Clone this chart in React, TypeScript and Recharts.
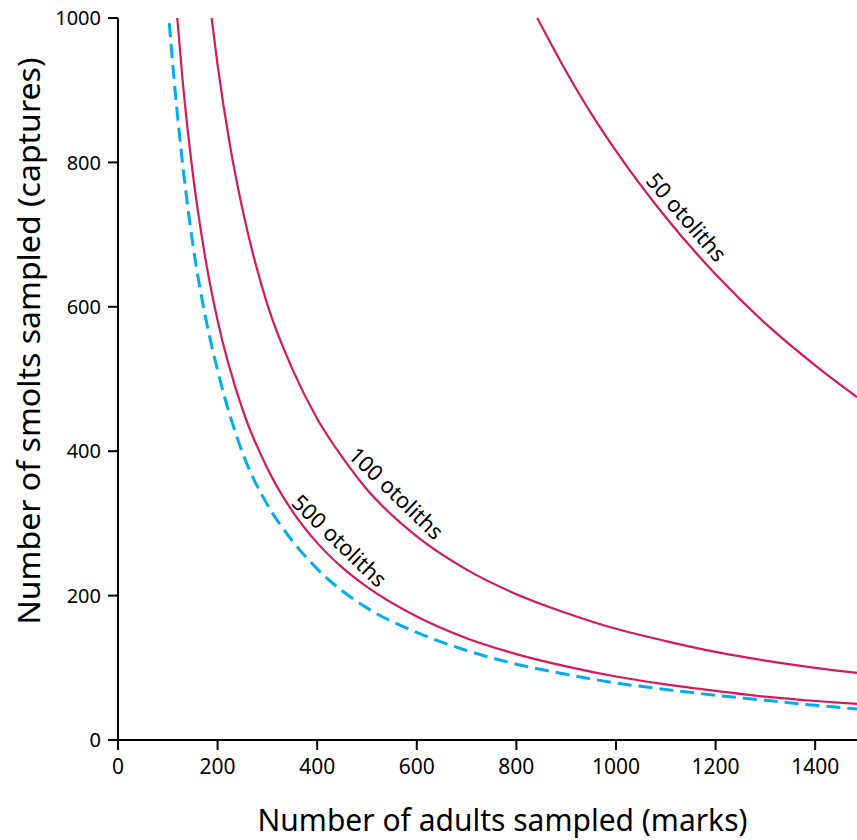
import { LineChart, Line, XAxis, YAxis, ReferenceDot } from "recharts"

type Pt = { x: number; y: number }

const xTicks = [0, 200, 400, 600, 800, 1000, 1200, 1400]
const yTicks = [0, 200, 400, 600, 800, 1000]

const otoliths50: Pt[] = [
  { x: 842, y: 1000 }, { x: 900, y: 926 }, { x: 950, y: 868 }, { x: 1000, y: 816 },
  { x: 1100, y: 724 }, { x: 1200, y: 645 }, { x: 1300, y: 577 }, { x: 1400, y: 519 },
  { x: 1484, y: 475 },
]
const otoliths100: Pt[] = [
  { x: 188, y: 1000 }, { x: 200, y: 935 }, { x: 225, y: 823 }, { x: 250, y: 735 },
  { x: 300, y: 603 }, { x: 350, y: 514 }, { x: 400, y: 445 }, { x: 450, y: 392 },
  { x: 500, y: 347 }, { x: 600, y: 282 }, { x: 700, y: 236 }, { x: 800, y: 202 },
  { x: 900, y: 176 }, { x: 1000, y: 154 }, { x: 1100, y: 137 }, { x: 1200, y: 122 },
  { x: 1300, y: 110 }, { x: 1400, y: 100 }, { x: 1484, y: 93 },
]
const otoliths500: Pt[] = [
  { x: 119, y: 1000 }, { x: 130, y: 912 }, { x: 150, y: 786 }, { x: 175, y: 669 },
  { x: 200, y: 581 }, { x: 250, y: 458 }, { x: 300, y: 376 }, { x: 350, y: 317 },
  { x: 400, y: 273 }, { x: 450, y: 239 }, { x: 500, y: 212 }, { x: 600, y: 171 },
  { x: 700, y: 141 }, { x: 800, y: 119 }, { x: 900, y: 102 }, { x: 1000, y: 88 },
  { x: 1100, y: 77 }, { x: 1200, y: 68 }, { x: 1300, y: 60 }, { x: 1400, y: 54 },
  { x: 1484, y: 50 },
]
const limitCurve: Pt[] = [
  { x: 103, y: 993 }, { x: 110, y: 935 }, { x: 125, y: 828 }, { x: 150, y: 688 },
  { x: 175, y: 588 }, { x: 200, y: 512 }, { x: 250, y: 398 }, { x: 300, y: 326 },
  { x: 350, y: 276 }, { x: 400, y: 237 }, { x: 500, y: 183 }, { x: 600, y: 149 },
  { x: 700, y: 124 }, { x: 800, y: 105 }, { x: 900, y: 91 }, { x: 1000, y: 79 },
  { x: 1100, y: 70 }, { x: 1200, y: 62 }, { x: 1300, y: 55 }, { x: 1400, y: 48 },
  { x: 1484, y: 43 },
]

const curveLabels = [
  { text: "50 otoliths", x: 1143, y: 725, angle: 49 },
  { text: "100 otoliths", x: 560, y: 343, angle: 44 },
  { text: "500 otoliths", x: 446, y: 277, angle: 44 },
]

const FONT = "'Noto Sans', sans-serif"
const MAGENTA = "#D7195A"
const CYAN = "#00AEEF"

const rotatedText = (text: string, angle: number) => (props: any) => {
  const { x, y } = props.viewBox
  return (
    <text
      x={x}
      y={y}
      transform={`rotate(${angle} ${x} ${y})`}
      textAnchor="middle"
      dominantBaseline="central"
      fontFamily={FONT}
      fontSize={22}
      fill="#000"
    >
      {text}
    </text>
  )
}

const xTitle = (props: any) => {
  const { x, y, width } = props.viewBox
  return (
    <text x={x + width / 2 + 15} y={y + 91} textAnchor="middle" fontFamily={FONT} fontSize={31} fill="#000"
      textLength={490} lengthAdjust="spacingAndGlyphs">
      Number of adults sampled (marks)
    </text>
  )
}

const yTitle = (props: any) => {
  const { y, height } = props.viewBox
  const cx = 40
  const cy = y + height / 2 - 38
  return (
    <text x={cx} y={cy} transform={`rotate(-90 ${cx} ${cy})`} textAnchor="middle" fontFamily={FONT} fontSize={31}
      fill="#000" textLength={567} lengthAdjust="spacingAndGlyphs">
      Number of smolts sampled (captures)
    </text>
  )
}

export default function App() {
  return (
    <div style={{ position: "absolute", left: 0, top: 0 }}>
      <LineChart width={857} height={840} margin={{ top: 18, right: 0, bottom: 0, left: 0 }}>
        <XAxis
          type="number"
          dataKey="x"
          domain={[0, 1484]}
          ticks={xTicks}
          height={100}
          tickSize={10}
          tickMargin={9}
          axisLine={{ stroke: "#000", strokeWidth: 2 }}
          tickLine={{ stroke: "#000", strokeWidth: 2 }}
          tick={{ fill: "#000", fontSize: 21, fontFamily: FONT }}
          label={xTitle}
        />
        <YAxis
          type="number"
          dataKey="y"
          domain={[0, 1000]}
          ticks={yTicks}
          width={118}
          tickSize={10}
          tickMargin={7}
          axisLine={{ stroke: "#000", strokeWidth: 2 }}
          tickLine={{ stroke: "#000", strokeWidth: 2 }}
          tick={{ fill: "#000", fontSize: 20, fontFamily: FONT }}
          label={yTitle}
        />
        <Line data={otoliths50} dataKey="y" type="monotone" stroke={MAGENTA} strokeWidth={2.2} dot={false} isAnimationActive={false} />
        <Line data={otoliths100} dataKey="y" type="monotone" stroke={MAGENTA} strokeWidth={2.2} dot={false} isAnimationActive={false} />
        <Line data={otoliths500} dataKey="y" type="monotone" stroke={MAGENTA} strokeWidth={2.2} dot={false} isAnimationActive={false} />
        <Line data={limitCurve} dataKey="y" type="monotone" stroke={CYAN} strokeWidth={3} strokeDasharray="14 7" dot={false} isAnimationActive={false} />
        {curveLabels.map((l) => (
          <ReferenceDot key={l.text} x={l.x} y={l.y} r={0} fill="none" stroke="none" label={rotatedText(l.text, l.angle)} />
        ))}
      </LineChart>
    </div>
  )
}
